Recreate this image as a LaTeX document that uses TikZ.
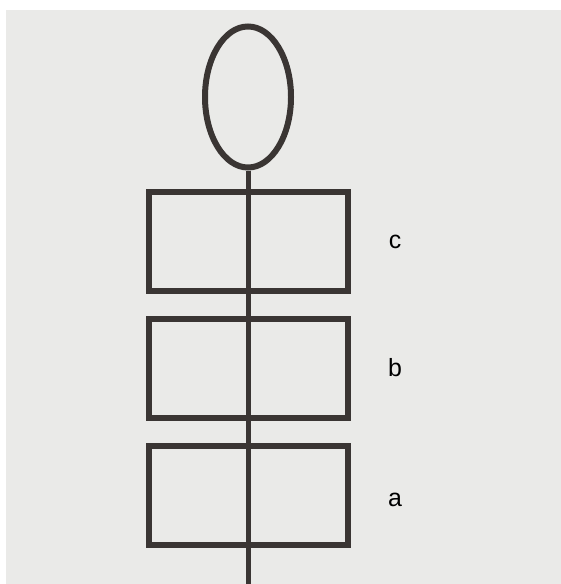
\documentclass[tikz,border=0pt]{standalone}
\usepackage{fontspec}
\setmainfont{Liberation Sans}
\usetikzlibrary{shapes.geometric}
\definecolor{ink}{HTML}{3A3533}
\definecolor{paper}{HTML}{EAEAE8}
\begin{document}
\begin{tikzpicture}[x=1bp,y=-1bp,
  stroke/.style={draw=ink,line width=6bp},
  box/.style={stroke,rectangle,minimum width=199bp,minimum height=99bp,inner sep=0pt},
  lbl/.style={font=\fontsize{25}{25}\selectfont,text=black,inner sep=0pt,anchor=base}]
\useasboundingbox (0,0) rectangle (561,584);
\fill[paper] (6,10) rectangle (561,584);
\node[stroke,ellipse,minimum width=86bp,minimum height=141bp,inner sep=0pt] (head) at (248,97) {};
\coordinate (bottom) at (248,584);
\draw[draw=ink,line width=5bp] (head.south) -- (bottom);
\node[box] (c) at (248.5,241.5) {};
\node[box] (b) at (248.5,368.5) {};
\node[box] (a) at (248.5,495.5) {};
\node[lbl] (lc) at (395,248) {c};
\node[lbl] (lb) at (395,376) {b};
\node[lbl] (la) at (395,506) {a};
\end{tikzpicture}
\end{document}
